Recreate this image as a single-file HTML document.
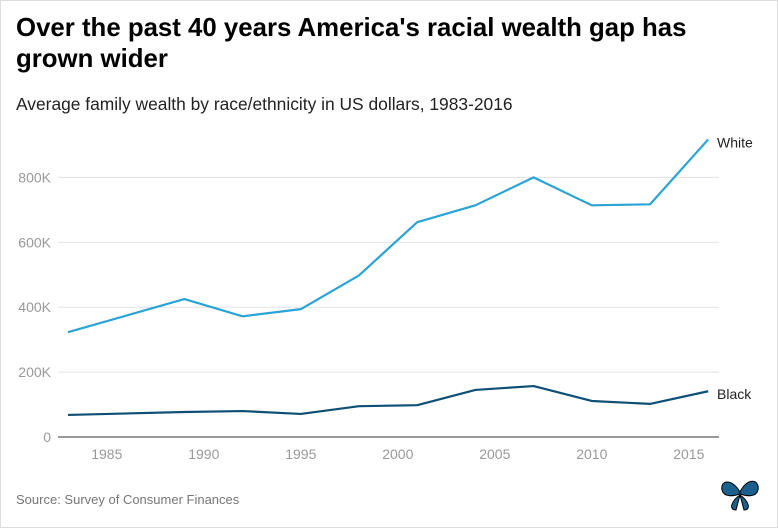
<!DOCTYPE html>
<html><head><meta charset="utf-8"><style>
body{margin:0;background:#fff;font-family:"Liberation Sans",Arial,sans-serif;}
#wrap{position:relative;width:776px;height:526px;border:1px solid #ddd;}
h1{position:absolute;left:15px;top:12px;margin:0;font-size:25.8px;line-height:31px;font-weight:bold;color:#000;width:740px;}
.sub{position:absolute;left:15px;top:93px;font-size:17.4px;color:#222;}
.src{position:absolute;left:15px;top:491px;font-size:13px;color:#777;}
svg{position:absolute;left:0;top:0;}
</style></head><body>
<div id="wrap">
<h1>Over the past 40 years America's racial wealth gap has grown wider</h1>
<div class="sub">Average family wealth by race/ethnicity in US dollars, 1983-2016</div>
<div class="src">Source: Survey of Consumer Finances</div>
<svg id="chart" width="778" height="528"></svg>
</div>
<script>
const years=[1983,1989,1992,1995,1998,2001,2004,2007,2010,2013,2016];
const white=[323,425,372,394,498,662,714,800,714,717,917];
const black=[68,77,80,71,95,98,145,157,111,102,141];
const yTicks=[0,200,400,600,800];
const yTickLabels=["0","200K","400K","600K","800K"];
const xTicks=[1985,1990,1995,2000,2005,2010,2015];
const NS="http://www.w3.org/2000/svg";
const svg=document.getElementById('chart');
const x=v=>67+(v-1983)*19.4;
const y=v=>436-v*0.3245;
function el(t,a){const e=document.createElementNS(NS,t);for(const k in a)e.setAttribute(k,a[k]);svg.appendChild(e);return e;}
yTicks.forEach((t,i)=>{
 const l=el('line',{x1:57,x2:718,y1:y(t),y2:y(t),stroke:i==0?'#333':'#e3e3e3','stroke-width':1});
 
 
 const tx=el('text',{x:50,y:y(t)+5,'text-anchor':'end','font-size':14,fill:'#999'});
 tx.textContent=yTickLabels[i];
 
 
});
xTicks.forEach(t=>{
 const tx=el('text',{x:x(t),y:458,'text-anchor':'middle','font-size':14,fill:'#999'});
 tx.textContent=t;
 
 
});
function line(data,color,name,label){
 const p=el('polyline',{points:years.map((yr,i)=>x(yr)+','+y(data[i])).join(' '),fill:'none',stroke:color,'stroke-width':2.2,'stroke-linejoin':'round'});
 
 
 const t=el('text',{x:716,y:y(data[data.length-1])+8,'font-size':14,fill:'#222'});
 t.textContent=label;
 
 
}
line(white,'#2aa3d6','white-series','White');
line(black,'#0e4f75','black-series','Black');
</script>
<svg width="778" height="528" style="position:absolute;left:0;top:0">
<g transform="translate(740,492)" fill="#1b5f8c" stroke="#000" stroke-width="1">
<path d="M0,0 C-8,-14 -20,-12 -18,-2 C-16,6 -6,4 0,2 Z"/>
<path d="M0,0 C8,-16 20,-12 18,-2 C16,6 6,4 0,2 Z"/>
<path d="M0,3 C-8,8 -12,18 -4,18 Z"/>
<path d="M0,3 C8,8 12,18 4,18 Z"/>
</g></svg>
</body></html>
